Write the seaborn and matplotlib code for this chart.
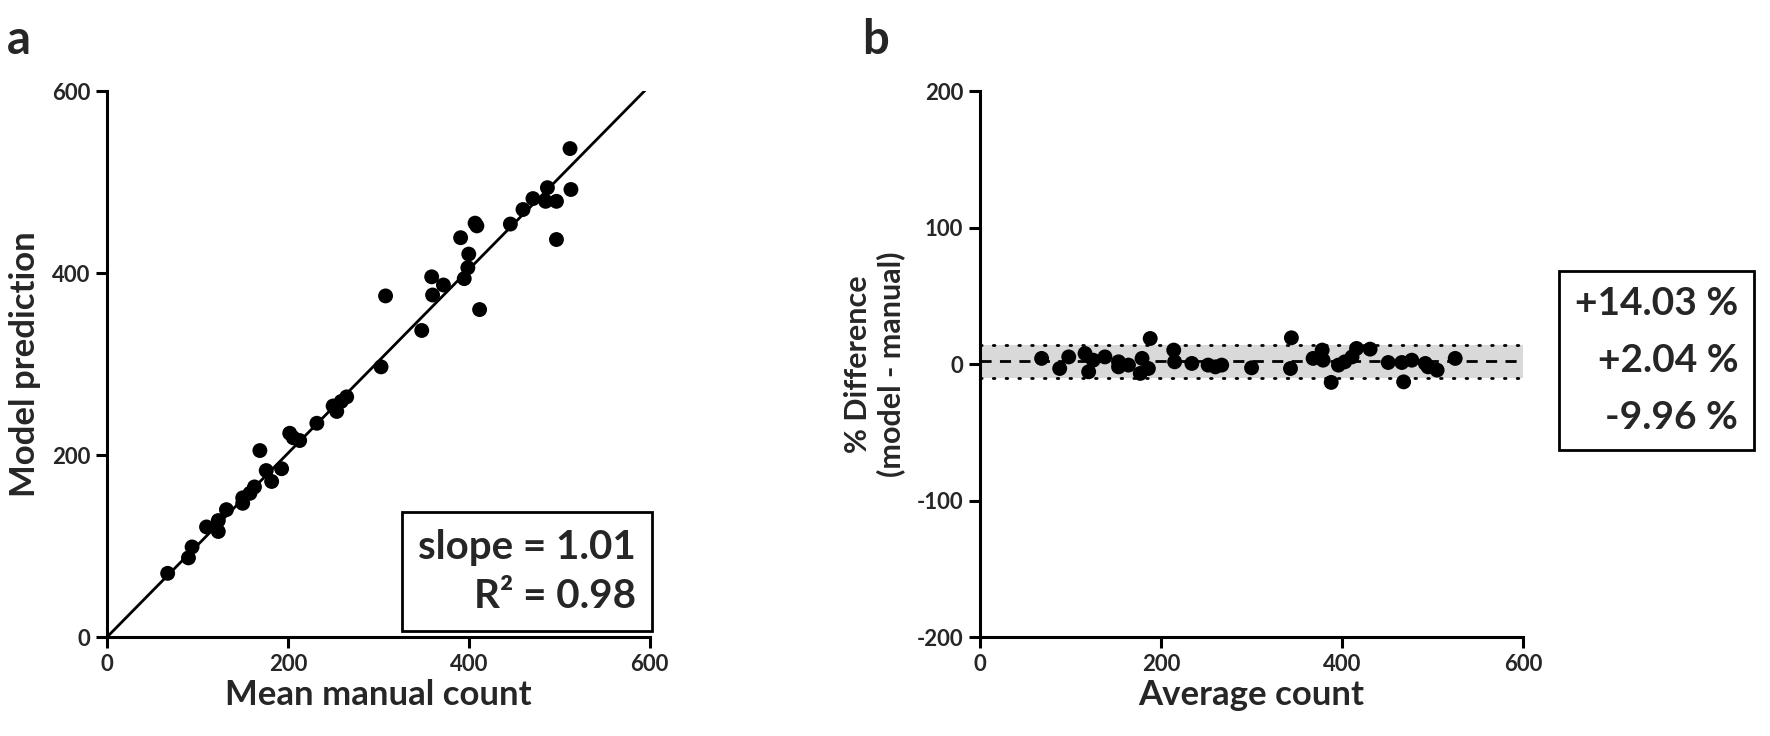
import numpy as np
import matplotlib
matplotlib.use("Agg")
import matplotlib.pyplot as plt
import seaborn as sns

# panel a: mean manual count vs model prediction
manual_count = [67, 90, 94, 110, 123, 123, 132, 150, 150, 158, 163, 169, 176, 182,
                193, 202, 206, 213, 232, 250, 254, 259, 265, 303, 308, 348, 359, 360,
                372, 391, 395, 399, 400, 407, 409, 412, 446, 460, 471, 485, 487, 497,
                497, 512, 513]
model_pred = [70, 87, 99, 121, 128, 116, 140, 147, 153, 158, 165, 205, 183, 171,
              185, 224, 219, 216, 235, 254, 248, 259, 264, 297, 375, 337, 396, 376,
              387, 439, 394, 406, 421, 455, 452, 360, 454, 470, 482, 479, 494, 479,
              437, 537, 492]
fit_slope = 1.01
r_squared = 0.98

# panel b: Bland-Altman
avg_count = [68, 88, 98, 116, 120, 125, 138, 153, 153, 164, 179, 177, 186, 188,
             214, 215, 234, 252, 260, 267, 300, 344, 343, 368, 378, 379, 388, 396,
             403, 411, 416, 431, 451, 466, 468, 477, 492, 495, 505, 525]
pct_diff = [4.2, -3.2, 5.3, 7.8, -5.6, 2.9, 5.3, 1.7, -2.0, -0.7, 4.2, -6.8, -3.2, 18.8,
            10.3, 1.7, 0.5, -0.7, -2.0, -0.7, -2.7, 19.3, -3.2, 4.2, 10.3, 2.9, -13.4, -0.7,
            1.7, 5.3, 11.5, 11.0, 1.2, 1.2, -13.0, 2.9, 0.5, -2.0, -4.4, 4.2]
bias = 2.04
upper_loa = 14.03
lower_loa = -9.96

sns.set_theme(style="ticks")
plt.rcParams['font.family'] = ['Lato', 'DejaVu Sans']
plt.rcParams['font.weight'] = 'bold'
plt.rcParams['axes.unicode_minus'] = False

fig = plt.figure(figsize=(17.7, 7.36), dpi=100)
ax1 = fig.add_axes([0.0605, 0.1345, 0.3065, 0.7415])
ax2 = fig.add_axes([0.5537, 0.1345, 0.3068, 0.7415])


def style_axis(ax):
    for side in ['top', 'right']:
        ax.spines[side].set_visible(False)
    for side in ['left', 'bottom']:
        ax.spines[side].set_linewidth(2.2)
        ax.spines[side].set_color('black')
    ax.tick_params(axis='both', length=8, width=2.2, color='black',
                   labelsize=16, pad=4)
    for lab in ax.get_xticklabels() + ax.get_yticklabels():
        lab.set_fontweight('bold')


# ---- a ----
sns.scatterplot(x=manual_count, y=model_pred, ax=ax1, color='black', s=115,
                edgecolor='none', zorder=3)
xl = np.array([0, 600])
ax1.plot(xl, fit_slope * xl, color='black', lw=2, zorder=2)
ax1.set_xlim(0, 600)
ax1.set_ylim(0, 600)
ax1.set_xticks([0, 200, 400, 600])
ax1.set_yticks([0, 200, 400, 600])
ax1.set_xlabel('Mean manual count', fontsize=25, fontweight='bold', labelpad=3)
ax1.set_ylabel('Model prediction', fontsize=25, fontweight='bold', labelpad=8)
style_axis(ax1)
ax1.text(0.975, 0.12, f'slope = {fit_slope:.2f}\nR² = {r_squared:.2f}',
         transform=ax1.transAxes, ha='right', va='center', fontsize=29,
         fontweight='bold', linespacing=1.4,
         bbox=dict(boxstyle='square,pad=0.4', fc='white', ec='black', lw=2))

# ---- b ----
ax2.axhspan(lower_loa, upper_loa, color='#d9d9d9', lw=0, zorder=1)
ax2.axhline(upper_loa, color='black', lw=2, ls=(0, (0.6, 4)), dash_capstyle='round', zorder=2)
ax2.axhline(lower_loa, color='black', lw=2, ls=(0, (0.6, 4)), dash_capstyle='round', zorder=2)
ax2.axhline(bias, color='black', lw=2, ls=(0, (4, 3)), zorder=2)
sns.scatterplot(x=avg_count, y=pct_diff, ax=ax2, color='black', s=115,
                edgecolor='none', zorder=3)
ax2.set_xlim(0, 600)
ax2.set_ylim(-200, 200)
ax2.set_xticks([0, 200, 400, 600])
ax2.set_yticks([-200, -100, 0, 100, 200])
ax2.set_xlabel('Average count', fontsize=25, fontweight='bold', labelpad=3)
ax2.set_ylabel('% Difference\n(model - manual)', fontsize=22, fontweight='bold',
               labelpad=8, linespacing=1.2)
style_axis(ax2)
fig.text(0.982, 0.51, f'+{upper_loa:.2f} %\n+{bias:.2f} %\n{lower_loa:.2f} %',
         ha='right', va='center', fontsize=28, fontweight='bold', linespacing=1.75,
         bbox=dict(boxstyle='square,pad=0.4', fc='white', ec='black', lw=2))

fig.text(0.004, 0.975, 'a', fontsize=34, fontweight='bold', va='top')
fig.text(0.487, 0.975, 'b', fontsize=34, fontweight='bold', va='top')

fig.savefig('out.png', dpi=100, facecolor='white')
